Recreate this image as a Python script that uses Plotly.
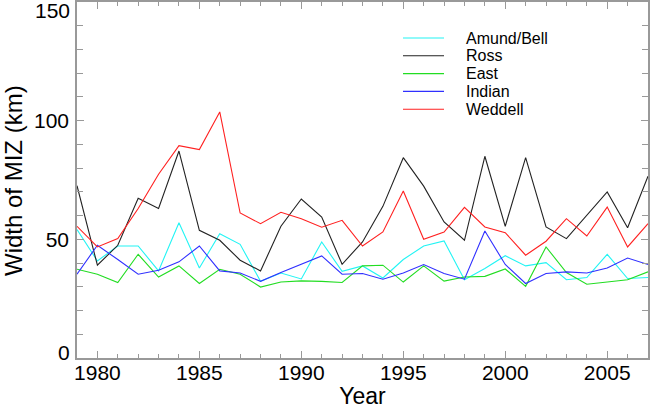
import plotly.graph_objects as go

years = list(range(1979, 2008))

amund_bell = [54.1, 40.9, 47.2, 47.2, 36.7, 57.0, 37.9, 52.4, 47.9, 32.3,
              35.8, 33.3, 48.9, 36.5, 38.8, 33.7, 41.5, 47.2, 49.3, 33.0,
              37.7, 43.1, 38.8, 40.2, 33.0, 33.9, 43.7, 33.5, 33.9]
ross = [72.6, 39.1, 47.5, 67.3, 63.0, 87.2, 53.8, 49.6, 41.2, 36.7,
        55.5, 67.0, 59.4, 39.5, 48.9, 63.9, 84.4, 72.4, 57.3, 49.6,
        85.0, 55.5, 84.4, 55.2, 50.3, 60.1, 70.0, 54.9, 76.6]
east = [37.4, 35.3, 31.8, 43.7, 34.1, 38.8, 31.4, 37.4, 35.3, 29.9,
        32.0, 32.5, 32.3, 31.8, 38.8, 39.1, 32.0, 38.8, 32.4, 34.1,
        34.4, 37.5, 30.2, 46.8, 36.0, 31.1, 32.0, 33.0, 36.3]
indian = [35.3, 47.5, 41.5, 35.3, 37.0, 40.5, 47.2, 36.7, 35.8, 32.3,
          36.0, 39.5, 43.0, 35.3, 35.6, 33.2, 35.8, 39.4, 35.6, 33.2,
          53.5, 39.4, 31.4, 35.6, 36.3, 35.8, 37.9, 42.1, 39.4]
weddell = [55.5, 46.8, 50.3, 63.0, 77.4, 89.5, 87.8, 103.7, 61.1, 56.6,
           61.4, 58.7, 55.1, 58.0, 47.2, 53.1, 70.4, 50.0, 53.1, 63.5,
           55.2, 52.8, 43.3, 49.2, 58.7, 51.4, 63.6, 46.8, 56.6]

x_ticks = [1980, 1985, 1990, 1995, 2000, 2005]
y_ticks = [0, 50, 100, 150]

series = [
    ("Amund/Bell", amund_bell, "#22f4f4"),
    ("Ross", ross, "#222222"),
    ("East", east, "#22dd22"),
    ("Indian", indian, "#3030ff"),
    ("Weddell", weddell, "#ff2020"),
]

W, H = 650, 409
L, R, T, B = 77, 2, 2, 51
pw, ph = W - L - R, H - T - B


def px2paper(px, py):
    return (px - L) / pw, (H - B - py) / ph


fig = go.Figure()
for name, vals, col in series:
    fig.add_trace(go.Scatter(x=years, y=vals, mode="lines", name=name,
                             line=dict(color=col, width=1.1)))

axis_common = dict(
    showgrid=False, zeroline=False, showline=True, linecolor="#999999",
    linewidth=1.5, mirror="ticks", ticks="inside", tickcolor="#999999",
    ticklen=7, tickwidth=1, tickfont=dict(size=21, color="black"),
    automargin=False,
)

fig.update_xaxes(range=[1979, 2007], tickvals=x_ticks,
                 minor=dict(dtick=1, tick0=1979, ticks="inside", ticklen=4,
                            tickcolor="#999999"),
                 ticklabelstandoff=-5,
                 title=dict(text="Year", font=dict(size=23, color="black"), standoff=15),
                 **axis_common)
# end labels are nudged inside the frame, like the original
fig.update_yaxes(range=[0, 150], tickvals=y_ticks,
                 ticktext=["" if v in (0, 150) else str(v) for v in y_ticks],
                 minor=dict(dtick=10, ticks="inside", ticklen=6,
                            tickcolor="#999999"),
                 ticklabelstandoff=2,
                 **axis_common)

ann = []
for v, shift in ((0, 6), (150, -8.5)):
    ann.append(dict(x=px2paper(72, 0)[0], y=v, xref="paper", yref="y",
                    xanchor="right", yanchor="middle", yshift=shift,
                    text=str(v), showarrow=False, font=dict(size=21, color="black")))

# y title sits close to the page edge
tx, ty = px2paper(13, 181)
ann.append(dict(x=tx, y=ty, xref="paper", yref="paper", xanchor="center",
                yanchor="middle", textangle=-90, text="Width of MIZ (km)",
                showarrow=False, font=dict(size=24, color="black")))

# legend drawn by hand to get the tight row spacing of the original
shapes = []
for i, (name, vals, col) in enumerate(series):
    row = 38 + i * 17.8
    x0, yy = px2paper(403, row)
    x1, _ = px2paper(444, row)
    shapes.append(dict(type="line", xref="paper", yref="paper", x0=x0, x1=x1,
                       y0=yy, y1=yy, line=dict(color=col, width=1.1)))
    lx, _ = px2paper(464, row)
    ann.append(dict(x=lx, y=yy, xref="paper", yref="paper", xanchor="left",
                    yanchor="middle", text=name, showarrow=False,
                    font=dict(size=16, color="black")))

fig.update_layout(
    width=W, height=H,
    margin=dict(l=L, r=R, t=T, b=B),
    plot_bgcolor="white", paper_bgcolor="white",
    font=dict(family="Liberation Sans, Arial, sans-serif", color="black"),
    showlegend=False,
    annotations=ann,
    shapes=shapes,
)

fig.write_html("out.html", config={"displayModeBar": False},
               post_script="document.body.style.margin='0';")
